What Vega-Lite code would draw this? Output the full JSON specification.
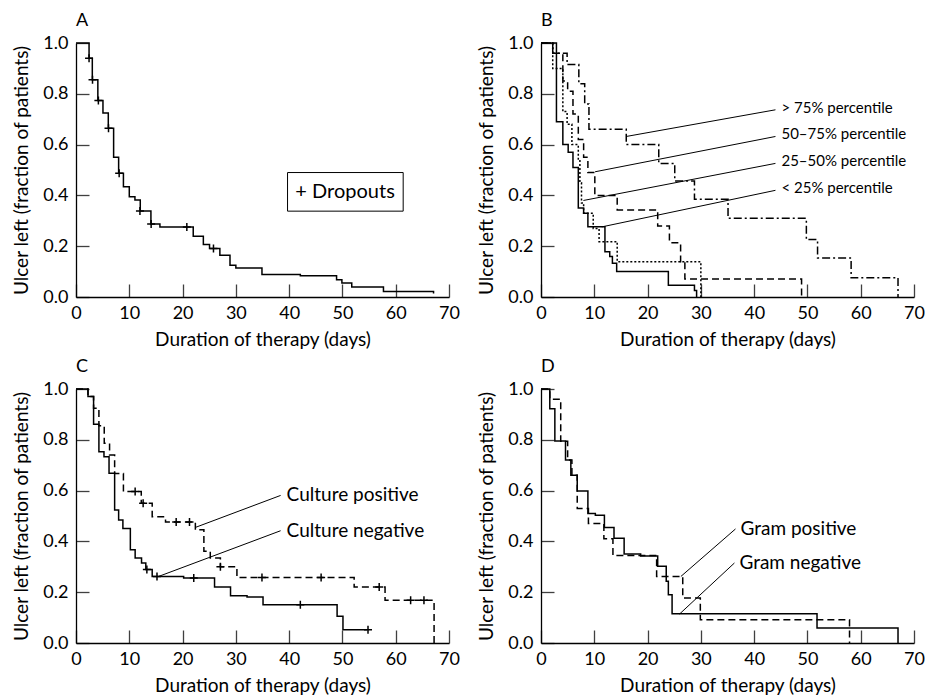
{
  "$schema": "https://vega.github.io/schema/vega-lite/v6.json",
  "background": "white",
  "padding": {"left": 12, "top": 12, "right": 0, "bottom": 0},
  "config": {
    "view": {"stroke": null},
    "font": "Lato",
    "axis": {
      "grid": false,
      "domainColor": "black",
      "domainWidth": 1.3,
      "ticks": true,
      "tickSize": -13,
      "tickColor": "black",
      "tickWidth": 1.3,
      "tickOpacity": 0.75,
      "labelFontSize": 18,
      "labelColor": "black",
      "labelFont": "Lato",
      "titleFont": "Lato",
      "titleFontSize": 19,
      "titleFontWeight": "normal",
      "titleColor": "black"
    },
    "axisY": {"titlePadding": 11, "labelPadding": 21},
    "axisX": {"titlePadding": 8, "labelPadding": 20, "labelFlush": false},
    "title": {"anchor": "start", "frame": "group", "fontSize": 18, "fontWeight": "normal", "font": "Lato", "offset": 0, "color": "black"}
  },
  "datasets": {
    "A": [
      {"x": 0, "y": 1}, {"x": 2.45, "y": 0.94}, {"x": 3.06, "y": 0.855}, {"x": 4.1, "y": 0.774},
      {"x": 5.06, "y": 0.724}, {"x": 6.06, "y": 0.664}, {"x": 7.06, "y": 0.55}, {"x": 8.0, "y": 0.487},
      {"x": 8.9, "y": 0.434}, {"x": 10.0, "y": 0.395}, {"x": 11.06, "y": 0.382}, {"x": 12.06, "y": 0.339},
      {"x": 14.06, "y": 0.287}, {"x": 15.75, "y": 0.276}, {"x": 22.0, "y": 0.239}, {"x": 23.9, "y": 0.207},
      {"x": 25.06, "y": 0.191}, {"x": 27.0, "y": 0.164}, {"x": 28.9, "y": 0.125}, {"x": 30.0, "y": 0.114},
      {"x": 34.9, "y": 0.089}, {"x": 42.1, "y": 0.084}, {"x": 48.9, "y": 0.068}, {"x": 49.9, "y": 0.055},
      {"x": 51.75, "y": 0.039}, {"x": 57.7, "y": 0.022}, {"x": 67.1, "y": 0.014}
    ],
    "Acens": [
      {"x": 2.45, "y": 0.94}, {"x": 3.1, "y": 0.855}, {"x": 4.2, "y": 0.774}, {"x": 6.1, "y": 0.664},
      {"x": 8.1, "y": 0.487}, {"x": 12.0, "y": 0.339}, {"x": 14.1, "y": 0.287}, {"x": 20.8, "y": 0.276},
      {"x": 25.8, "y": 0.191}
    ],
    "Abox": [{"x": 39.7, "x2": 61.4, "y": 0.338, "y2": 0.49, "xm": 50.5, "ym": 0.414, "t": "+ Dropouts"}],
    "B": [
      {"s": "a", "x": 0, "y": 1}, {"s": "a", "x": 2.9, "y": 0.69}, {"s": "a", "x": 4.1, "y": 0.6},
      {"s": "a", "x": 5.1, "y": 0.57}, {"s": "a", "x": 6.0, "y": 0.51}, {"s": "a", "x": 7.0, "y": 0.35},
      {"s": "a", "x": 8.0, "y": 0.33}, {"s": "a", "x": 8.8, "y": 0.277}, {"s": "a", "x": 12.0, "y": 0.178},
      {"s": "a", "x": 12.9, "y": 0.159}, {"s": "a", "x": 13.4, "y": 0.133}, {"s": "a", "x": 14.2, "y": 0.1},
      {"s": "a", "x": 23.9, "y": 0.046}, {"s": "a", "x": 28.8, "y": 0.026}, {"s": "a", "x": 29.2, "y": 0},
      {"s": "b", "x": 0, "y": 1}, {"s": "b", "x": 2.2, "y": 0.9}, {"s": "b", "x": 4.1, "y": 0.73},
      {"s": "b", "x": 4.9, "y": 0.68}, {"s": "b", "x": 5.8, "y": 0.6}, {"s": "b", "x": 7.0, "y": 0.54},
      {"s": "b", "x": 7.3, "y": 0.45}, {"s": "b", "x": 7.6, "y": 0.37}, {"s": "b", "x": 8.0, "y": 0.33},
      {"s": "b", "x": 9.8, "y": 0.27}, {"s": "b", "x": 10.9, "y": 0.218}, {"s": "b", "x": 14.3, "y": 0.139},
      {"s": "b", "x": 30.0, "y": 0},
      {"s": "c", "x": 0, "y": 1}, {"s": "c", "x": 2.2, "y": 0.96}, {"s": "c", "x": 4.1, "y": 0.85},
      {"s": "c", "x": 5.0, "y": 0.81}, {"s": "c", "x": 6.0, "y": 0.72}, {"s": "c", "x": 7.0, "y": 0.62},
      {"s": "c", "x": 8.0, "y": 0.55}, {"s": "c", "x": 8.8, "y": 0.49}, {"s": "c", "x": 10.1, "y": 0.4},
      {"s": "c", "x": 14.3, "y": 0.343}, {"s": "c", "x": 21.9, "y": 0.28}, {"s": "c", "x": 24.1, "y": 0.214},
      {"s": "c", "x": 26.2, "y": 0.139}, {"s": "c", "x": 27.0, "y": 0.071}, {"s": "c", "x": 48.9, "y": 0},
      {"s": "d", "x": 0, "y": 1}, {"s": "d", "x": 2.2, "y": 0.96}, {"s": "d", "x": 4.9, "y": 0.915},
      {"s": "d", "x": 7.1, "y": 0.84}, {"s": "d", "x": 8.2, "y": 0.76}, {"s": "d", "x": 9.0, "y": 0.66},
      {"s": "d", "x": 16.0, "y": 0.6}, {"s": "d", "x": 22.1, "y": 0.526}, {"s": "d", "x": 25.1, "y": 0.457},
      {"s": "d", "x": 28.8, "y": 0.385}, {"s": "d", "x": 35.1, "y": 0.31}, {"s": "d", "x": 49.8, "y": 0.226},
      {"s": "d", "x": 51.9, "y": 0.154}, {"s": "d", "x": 58.2, "y": 0.076}, {"s": "d", "x": 67.0, "y": 0}
    ],
    "Blab": [
      {"x": 16.0, "y": 0.632, "x2": 44, "y2": 0.737, "t": "> 75% percentile"},
      {"x": 10.15, "y": 0.493, "x2": 44, "y2": 0.632, "t": "50–75% percentile"},
      {"x": 7.96, "y": 0.38, "x2": 44, "y2": 0.526, "t": "25–50% percentile"},
      {"x": 11.4, "y": 0.276, "x2": 44, "y2": 0.42, "t": "< 25% percentile"}
    ],
    "C": [
      {"s": "a", "x": 0, "y": 1}, {"s": "a", "x": 2.25, "y": 0.97}, {"s": "a", "x": 3.3, "y": 0.861},
      {"s": "a", "x": 4.3, "y": 0.753}, {"s": "a", "x": 5.25, "y": 0.733}, {"s": "a", "x": 6.2, "y": 0.668},
      {"s": "a", "x": 7.25, "y": 0.524}, {"s": "a", "x": 8.0, "y": 0.484}, {"s": "a", "x": 8.8, "y": 0.451},
      {"s": "a", "x": 10.2, "y": 0.367}, {"s": "a", "x": 11.1, "y": 0.335}, {"s": "a", "x": 12.3, "y": 0.315},
      {"s": "a", "x": 13.1, "y": 0.289}, {"s": "a", "x": 14.3, "y": 0.262}, {"s": "a", "x": 20.2, "y": 0.256},
      {"s": "a", "x": 26.0, "y": 0.22}, {"s": "a", "x": 29.0, "y": 0.186}, {"s": "a", "x": 32.1, "y": 0.181},
      {"s": "a", "x": 35.1, "y": 0.151}, {"s": "a", "x": 49.0, "y": 0.105}, {"s": "a", "x": 50.1, "y": 0.052},
      {"s": "a", "x": 54.6, "y": 0.052},
      {"s": "c", "x": 0, "y": 1}, {"s": "c", "x": 2.25, "y": 0.97}, {"s": "c", "x": 3.3, "y": 0.924},
      {"s": "c", "x": 4.3, "y": 0.855}, {"s": "c", "x": 5.3, "y": 0.786}, {"s": "c", "x": 6.3, "y": 0.74},
      {"s": "c", "x": 7.25, "y": 0.667}, {"s": "c", "x": 8.9, "y": 0.596}, {"s": "c", "x": 12.25, "y": 0.55},
      {"s": "c", "x": 14.3, "y": 0.497}, {"s": "c", "x": 16.8, "y": 0.476}, {"s": "c", "x": 22.4, "y": 0.446},
      {"s": "c", "x": 24.0, "y": 0.361}, {"s": "c", "x": 25.2, "y": 0.335}, {"s": "c", "x": 27.1, "y": 0.3},
      {"s": "c", "x": 30.2, "y": 0.258}, {"s": "c", "x": 52.2, "y": 0.22}, {"s": "c", "x": 58.0, "y": 0.168},
      {"s": "c", "x": 67.2, "y": 0}
    ],
    "Ccens": [
      {"x": 11.1, "y": 0.596}, {"x": 12.6, "y": 0.55}, {"x": 18.8, "y": 0.476}, {"x": 21.3, "y": 0.476},
      {"x": 27.1, "y": 0.3}, {"x": 34.9, "y": 0.258}, {"x": 46.0, "y": 0.258}, {"x": 56.9, "y": 0.22},
      {"x": 62.8, "y": 0.168}, {"x": 65.3, "y": 0.168},
      {"x": 13.3, "y": 0.289}, {"x": 15.2, "y": 0.262}, {"x": 22.1, "y": 0.256}, {"x": 42.1, "y": 0.151},
      {"x": 54.8, "y": 0.052}
    ],
    "Clab": [
      {"x": 22.4, "y": 0.455, "x2": 38.4, "y2": 0.581, "t": "Culture positive"},
      {"x": 15.5, "y": 0.262, "x2": 38.4, "y2": 0.442, "t": "Culture negative"}
    ],
    "D": [
      {"s": "a", "x": 0, "y": 1}, {"s": "a", "x": 1.65, "y": 0.922}, {"s": "a", "x": 2.6, "y": 0.795},
      {"s": "a", "x": 4.6, "y": 0.72}, {"s": "a", "x": 5.6, "y": 0.66}, {"s": "a", "x": 6.8, "y": 0.598},
      {"s": "a", "x": 8.8, "y": 0.51}, {"s": "a", "x": 10.2, "y": 0.503}, {"s": "a", "x": 11.9, "y": 0.455},
      {"s": "a", "x": 13.7, "y": 0.412}, {"s": "a", "x": 15.6, "y": 0.35}, {"s": "a", "x": 18.7, "y": 0.343},
      {"s": "a", "x": 21.9, "y": 0.302}, {"s": "a", "x": 23.5, "y": 0.243}, {"s": "a", "x": 23.9, "y": 0.19},
      {"s": "a", "x": 24.6, "y": 0.115}, {"s": "a", "x": 51.8, "y": 0.059}, {"s": "a", "x": 67.0, "y": 0},
      {"s": "c", "x": 0, "y": 1}, {"s": "c", "x": 1.65, "y": 0.96}, {"s": "c", "x": 3.7, "y": 0.794},
      {"s": "c", "x": 5.0, "y": 0.72}, {"s": "c", "x": 5.8, "y": 0.66}, {"s": "c", "x": 6.8, "y": 0.53},
      {"s": "c", "x": 8.9, "y": 0.47}, {"s": "c", "x": 11.8, "y": 0.41}, {"s": "c", "x": 13.5, "y": 0.344},
      {"s": "c", "x": 21.7, "y": 0.262}, {"s": "c", "x": 26.6, "y": 0.177}, {"s": "c", "x": 29.9, "y": 0.092},
      {"s": "c", "x": 57.9, "y": 0}
    ],
    "Dlab": [
      {"x": 26.25, "y": 0.262, "x2": 36.5, "y2": 0.449, "t": "Gram positive"},
      {"x": 26.0, "y": 0.114, "x2": 36.3, "y2": 0.315, "t": "Gram negative"}
    ]
  },
  "vconcat": [
    {
      "hconcat": [
        {
          "width": 373, "height": 254,
          "title": "A",
          "layer": [
            {
              "data": {"name": "A"},
              "mark": {"type": "line", "interpolate": "step-after", "color": "black", "strokeWidth": 1.5},
              "encoding": {
                "x": {"field": "x", "type": "quantitative", "title": "Duration of therapy (days)", "scale": {"domain": [0, 70], "nice": false}, "axis": {"values": [0, 10, 20, 30, 40, 50, 60, 70]}},
                "y": {"field": "y", "type": "quantitative", "title": "Ulcer left (fraction of patients)", "scale": {"domain": [0, 1], "nice": false}, "axis": {"values": [0, 0.2, 0.4, 0.6, 0.8, 1], "format": ".1f"}}
              }
            },
            {
              "data": {"name": "Acens"},
              "mark": {"type": "point", "shape": "M-1,0H1M0,-1V1", "size": 64, "filled": false, "stroke": "black", "strokeWidth": 1.5, "opacity": 1},
              "encoding": {
                "x": {"field": "x", "type": "quantitative", "title": "Duration of therapy (days)"},
                "y": {"field": "y", "type": "quantitative", "title": "Ulcer left (fraction of patients)"}
              }
            },
            {
              "data": {"name": "Abox"},
              "mark": {"type": "rect", "fill": "white", "stroke": "black", "strokeWidth": 1},
              "encoding": {
                "x": {"field": "x", "type": "quantitative", "title": "Duration of therapy (days)"},
                "x2": {"field": "x2"},
                "y": {"field": "y", "type": "quantitative", "title": "Ulcer left (fraction of patients)"},
                "y2": {"field": "y2"}
              }
            },
            {
              "data": {"name": "Abox"},
              "mark": {"type": "text", "fontSize": 20, "align": "center", "baseline": "middle", "color": "black"},
              "encoding": {
                "x": {"field": "xm", "type": "quantitative", "title": "Duration of therapy (days)"},
                "y": {"field": "ym", "type": "quantitative", "title": "Ulcer left (fraction of patients)"},
                "text": {"field": "t"}
              }
            }
          ]
        },
        {
          "width": 373, "height": 254,
          "title": "B",
          "layer": [
            {
              "data": {"name": "B"},
              "mark": {"type": "line", "interpolate": "step-after", "color": "black", "strokeWidth": 1.5},
              "encoding": {
                "x": {"field": "x", "type": "quantitative", "title": "Duration of therapy (days)", "scale": {"domain": [0, 70], "nice": false}, "axis": {"values": [0, 10, 20, 30, 40, 50, 60, 70]}},
                "y": {"field": "y", "type": "quantitative", "title": "Ulcer left (fraction of patients)", "scale": {"domain": [0, 1], "nice": false}, "axis": {"values": [0, 0.2, 0.4, 0.6, 0.8, 1], "format": ".1f"}},
                "strokeDash": {"field": "s", "type": "nominal", "scale": {"domain": ["a", "b", "c", "d"], "range": [[1, 0], [2, 2], [7, 4], [8, 3, 2, 3]]}, "legend": null}
              }
            },
            {
              "data": {"name": "Blab"},
              "mark": {"type": "rule", "color": "black", "strokeWidth": 1},
              "encoding": {
                "x": {"field": "x", "type": "quantitative", "title": "Duration of therapy (days)"},
                "y": {"field": "y", "type": "quantitative", "title": "Ulcer left (fraction of patients)"},
                "x2": {"field": "x2"},
                "y2": {"field": "y2"}
              }
            },
            {
              "data": {"name": "Blab"},
              "mark": {"type": "text", "fontSize": 15, "align": "left", "baseline": "middle", "dx": 6, "dy": -2, "color": "black"},
              "encoding": {
                "x": {"field": "x2", "type": "quantitative", "title": "Duration of therapy (days)"},
                "y": {"field": "y2", "type": "quantitative", "title": "Ulcer left (fraction of patients)"},
                "text": {"field": "t"}
              }
            }
          ]
        }
      ],
      "spacing": 17
    },
    {
      "hconcat": [
        {
          "width": 373, "height": 254,
          "title": "C",
          "layer": [
            {
              "data": {"name": "C"},
              "mark": {"type": "line", "interpolate": "step-after", "color": "black", "strokeWidth": 1.5},
              "encoding": {
                "x": {"field": "x", "type": "quantitative", "title": "Duration of therapy (days)", "scale": {"domain": [0, 70], "nice": false}, "axis": {"values": [0, 10, 20, 30, 40, 50, 60, 70]}},
                "y": {"field": "y", "type": "quantitative", "title": "Ulcer left (fraction of patients)", "scale": {"domain": [0, 1], "nice": false}, "axis": {"values": [0, 0.2, 0.4, 0.6, 0.8, 1], "format": ".1f"}},
                "strokeDash": {"field": "s", "type": "nominal", "scale": {"domain": ["a", "b", "c", "d"], "range": [[1, 0], [2, 2], [7, 4], [8, 3, 2, 3]]}, "legend": null}
              }
            },
            {
              "data": {"name": "Ccens"},
              "mark": {"type": "point", "shape": "M-1,0H1M0,-1V1", "size": 64, "filled": false, "stroke": "black", "strokeWidth": 1.5, "opacity": 1},
              "encoding": {
                "x": {"field": "x", "type": "quantitative", "title": "Duration of therapy (days)"},
                "y": {"field": "y", "type": "quantitative", "title": "Ulcer left (fraction of patients)"}
              }
            },
            {
              "data": {"name": "Clab"},
              "mark": {"type": "rule", "color": "black", "strokeWidth": 1},
              "encoding": {
                "x": {"field": "x", "type": "quantitative", "title": "Duration of therapy (days)"},
                "y": {"field": "y", "type": "quantitative", "title": "Ulcer left (fraction of patients)"},
                "x2": {"field": "x2"},
                "y2": {"field": "y2"}
              }
            },
            {
              "data": {"name": "Clab"},
              "mark": {"type": "text", "fontSize": 19, "align": "left", "baseline": "middle", "dx": 6, "color": "black"},
              "encoding": {
                "x": {"field": "x2", "type": "quantitative", "title": "Duration of therapy (days)"},
                "y": {"field": "y2", "type": "quantitative", "title": "Ulcer left (fraction of patients)"},
                "text": {"field": "t"}
              }
            }
          ]
        },
        {
          "width": 373, "height": 254,
          "title": "D",
          "layer": [
            {
              "data": {"name": "D"},
              "mark": {"type": "line", "interpolate": "step-after", "color": "black", "strokeWidth": 1.5},
              "encoding": {
                "x": {"field": "x", "type": "quantitative", "title": "Duration of therapy (days)", "scale": {"domain": [0, 70], "nice": false}, "axis": {"values": [0, 10, 20, 30, 40, 50, 60, 70]}},
                "y": {"field": "y", "type": "quantitative", "title": "Ulcer left (fraction of patients)", "scale": {"domain": [0, 1], "nice": false}, "axis": {"values": [0, 0.2, 0.4, 0.6, 0.8, 1], "format": ".1f"}},
                "strokeDash": {"field": "s", "type": "nominal", "scale": {"domain": ["a", "b", "c", "d"], "range": [[1, 0], [2, 2], [7, 4], [8, 3, 2, 3]]}, "legend": null}
              }
            },
            {
              "data": {"name": "Dlab"},
              "mark": {"type": "rule", "color": "black", "strokeWidth": 1},
              "encoding": {
                "x": {"field": "x", "type": "quantitative", "title": "Duration of therapy (days)"},
                "y": {"field": "y", "type": "quantitative", "title": "Ulcer left (fraction of patients)"},
                "x2": {"field": "x2"},
                "y2": {"field": "y2"}
              }
            },
            {
              "data": {"name": "Dlab"},
              "mark": {"type": "text", "fontSize": 19, "align": "left", "baseline": "middle", "dx": 5, "color": "black"},
              "encoding": {
                "x": {"field": "x2", "type": "quantitative", "title": "Duration of therapy (days)"},
                "y": {"field": "y2", "type": "quantitative", "title": "Ulcer left (fraction of patients)"},
                "text": {"field": "t"}
              }
            }
          ]
        }
      ],
      "spacing": 17
    }
  ],
  "spacing": 9
}
